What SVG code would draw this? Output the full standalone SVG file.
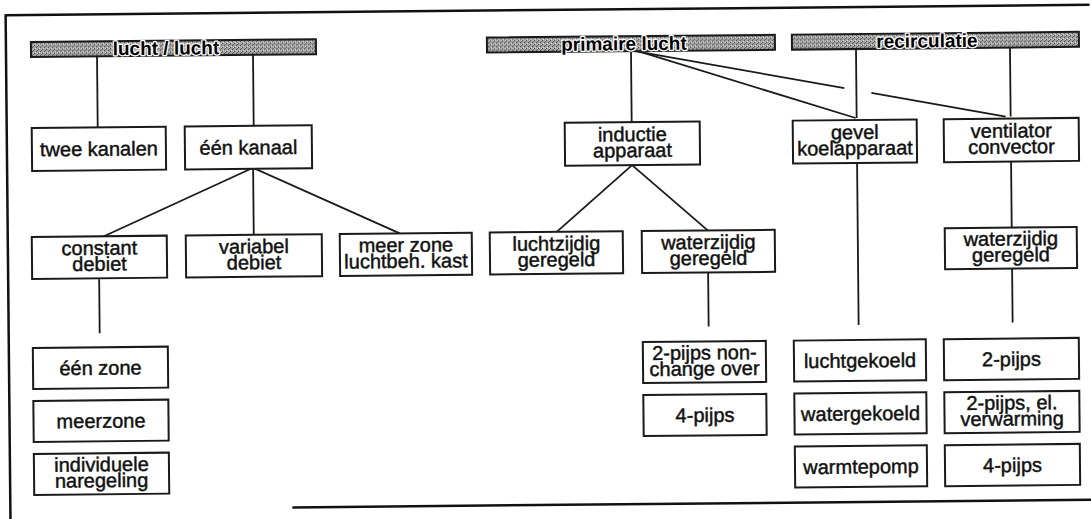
<svg xmlns="http://www.w3.org/2000/svg" width="1091" height="519" viewBox="0 0 1091 519">
<defs>
<pattern id="stip" width="4" height="4" patternUnits="userSpaceOnUse">
<rect width="4" height="4" fill="#a2a2a2"/>
<rect x="0" y="0" width="1" height="1" fill="#3a3a3a"/>
<rect x="2" y="2" width="1" height="1" fill="#4a4a4a"/>
<rect x="3" y="1" width="1" height="1" fill="#555"/>
<rect x="3" y="0" width="1" height="1" fill="#e0e0e0"/>
<rect x="1" y="3" width="1" height="1" fill="#e6e6e6"/>
</pattern>
<style>
.box{fill:#fff;stroke:#1a1a1a;stroke-width:2}
.bar{fill:url(#stip);stroke:#1a1a1a;stroke-width:2}
.t{font-family:"Liberation Sans",Arial,sans-serif;font-size:20px;fill:#111;stroke:#111;stroke-width:0.45;text-anchor:middle}
.h{font-family:"Liberation Sans",Arial,sans-serif;font-size:19px;font-weight:bold;fill:#000;text-anchor:middle;stroke:#fff;stroke-width:2.5;paint-order:stroke;stroke-linejoin:round}
.c{stroke:#1a1a1a;stroke-width:1.8;fill:none}
.f{stroke:#111;stroke-width:2.5;fill:none}
</style>
</defs>
<rect width="1091" height="519" fill="#fff"/>
<g transform="rotate(-0.55 545 260)">
<g id="frame">
<line class="f" x1="8" y1="10" x2="1092" y2="10"/>
<line class="f" x1="8" y1="9" x2="8" y2="535"/>
<line class="f" x1="290" y1="505" x2="1096" y2="505"/>
</g>
<g id="connectors">
<line class="c" x1="99" y1="52" x2="99" y2="123"/>
<line class="c" x1="255" y1="52" x2="255" y2="123"/>
<line class="c" x1="254" y1="165" x2="102" y2="233"/>
<line class="c" x1="254" y1="165" x2="254" y2="232"/>
<line class="c" x1="254" y1="165" x2="400" y2="232"/>
<line class="c" x1="99" y1="275" x2="99" y2="329"/>
<line class="c" x1="633" y1="52" x2="633" y2="123"/>
<line class="c" x1="640" y1="52" x2="857" y2="121"/>
<line class="c" x1="637" y1="52" x2="846" y2="91"/>
<line class="c" x1="873" y1="96" x2="1007" y2="121"/>
<line class="c" x1="633" y1="166" x2="557" y2="232"/>
<line class="c" x1="633" y1="166" x2="708" y2="232"/>
<line class="c" x1="708" y1="274" x2="708" y2="328"/>
<line class="c" x1="858" y1="52" x2="858" y2="121"/>
<line class="c" x1="858" y1="165" x2="858" y2="328"/>
<line class="c" x1="1012" y1="52" x2="1012" y2="121"/>
<line class="c" x1="1012" y1="164" x2="1012" y2="232"/>
<line class="c" x1="1012" y1="273" x2="1012" y2="327"/>
</g>
<g id="h-lucht"><rect class="bar" x="33" y="37" width="285" height="15"/><text class="h" x="168" y="51">lucht / lucht</text></g>
<g id="h-primair"><rect class="bar" x="489" y="37" width="288" height="15"/><text class="h" x="626" y="51">primaire lucht</text></g>
<g id="h-recirc"><rect class="bar" x="794" y="37" width="287" height="15"/><text class="h" x="929" y="51">recirculatie</text></g>

<g id="n-twee"><rect class="box" x="33" y="123" width="134" height="43"/><text class="t" x="100" y="151.5">twee kanalen</text></g>
<g id="n-een"><rect class="box" x="186" y="123" width="127" height="43"/><text class="t" x="249.5" y="151.5">één kanaal</text></g>
<g id="n-inductie"><rect class="box" x="566" y="123" width="135" height="43"/><text class="t" x="633.5" y="142">inductie</text><text class="t" x="633.5" y="158">apparaat</text></g>
<g id="n-gevel"><rect class="box" x="794" y="123" width="124" height="43"/><text class="t" x="856" y="142">gevel</text><text class="t" x="856" y="158">koelapparaat</text></g>
<g id="n-vent"><rect class="box" x="945" y="123" width="135" height="43"/><text class="t" x="1012.5" y="142">ventilator</text><text class="t" x="1012.5" y="158">convector</text></g>

<g id="n-constant"><rect class="box" x="32" y="232" width="135" height="42"/><text class="t" x="99.5" y="250.5">constant</text><text class="t" x="99.5" y="266.5">debiet</text></g>
<g id="n-variabel"><rect class="box" x="186" y="232" width="136" height="42"/><text class="t" x="254" y="250.5">variabel</text><text class="t" x="254" y="266.5">debiet</text></g>
<g id="n-meerzone"><rect class="box" x="340" y="232" width="132" height="42"/><text class="t" x="406" y="250.5">meer zone</text><text class="t" x="406" y="266.5">luchtbeh. kast</text></g>
<g id="n-luchtz"><rect class="box" x="490" y="232" width="133" height="42"/><text class="t" x="556.5" y="250.5">luchtzijdig</text><text class="t" x="556.5" y="266.5">geregeld</text></g>
<g id="n-waterz"><rect class="box" x="642" y="232" width="133" height="42"/><text class="t" x="708.5" y="250.5">waterzijdig</text><text class="t" x="708.5" y="266.5">geregeld</text></g>
<g id="n-waterz2"><rect class="box" x="945" y="232" width="132" height="41"/><text class="t" x="1011" y="250">waterzijdig</text><text class="t" x="1011" y="266">geregeld</text></g>

<g id="n-eenzone"><rect class="box" x="32" y="343" width="135" height="41"/><text class="t" x="99.5" y="370.5">één zone</text></g>
<g id="n-meerzone2"><rect class="box" x="32" y="396" width="135" height="41"/><text class="t" x="99.5" y="423.5">meerzone</text></g>
<g id="n-indiv"><rect class="box" x="32" y="449" width="135" height="41"/><text class="t" x="99.5" y="467">individuele</text><text class="t" x="99.5" y="483">naregeling</text></g>

<g id="n-2pnon"><rect class="box" x="642" y="343" width="123" height="41"/><text class="t" x="703.5" y="361">2-pijps non-</text><text class="t" x="703.5" y="377">change over</text></g>
<g id="n-4p1"><rect class="box" x="642" y="396" width="123" height="41"/><text class="t" x="703.5" y="423.5">4-pijps</text></g>

<g id="n-luchtgek"><rect class="box" x="793" y="343" width="132" height="41"/><text class="t" x="859" y="370.5">luchtgekoeld</text></g>
<g id="n-watergek"><rect class="box" x="793" y="396" width="132" height="41"/><text class="t" x="859" y="423.5">watergekoeld</text></g>
<g id="n-warmte"><rect class="box" x="793" y="449" width="132" height="41"/><text class="t" x="859" y="476.5">warmtepomp</text></g>

<g id="n-2p"><rect class="box" x="943" y="343" width="135" height="41"/><text class="t" x="1010.5" y="370.5">2-pijps</text></g>
<g id="n-2pel"><rect class="box" x="943" y="396" width="135" height="41"/><text class="t" x="1010.5" y="414">2-pijps, el.</text><text class="t" x="1010.5" y="430">verwarming</text></g>
<g id="n-4p2"><rect class="box" x="943" y="449" width="135" height="41"/><text class="t" x="1010.5" y="476.5">4-pijps</text></g>
</g>
</svg>
